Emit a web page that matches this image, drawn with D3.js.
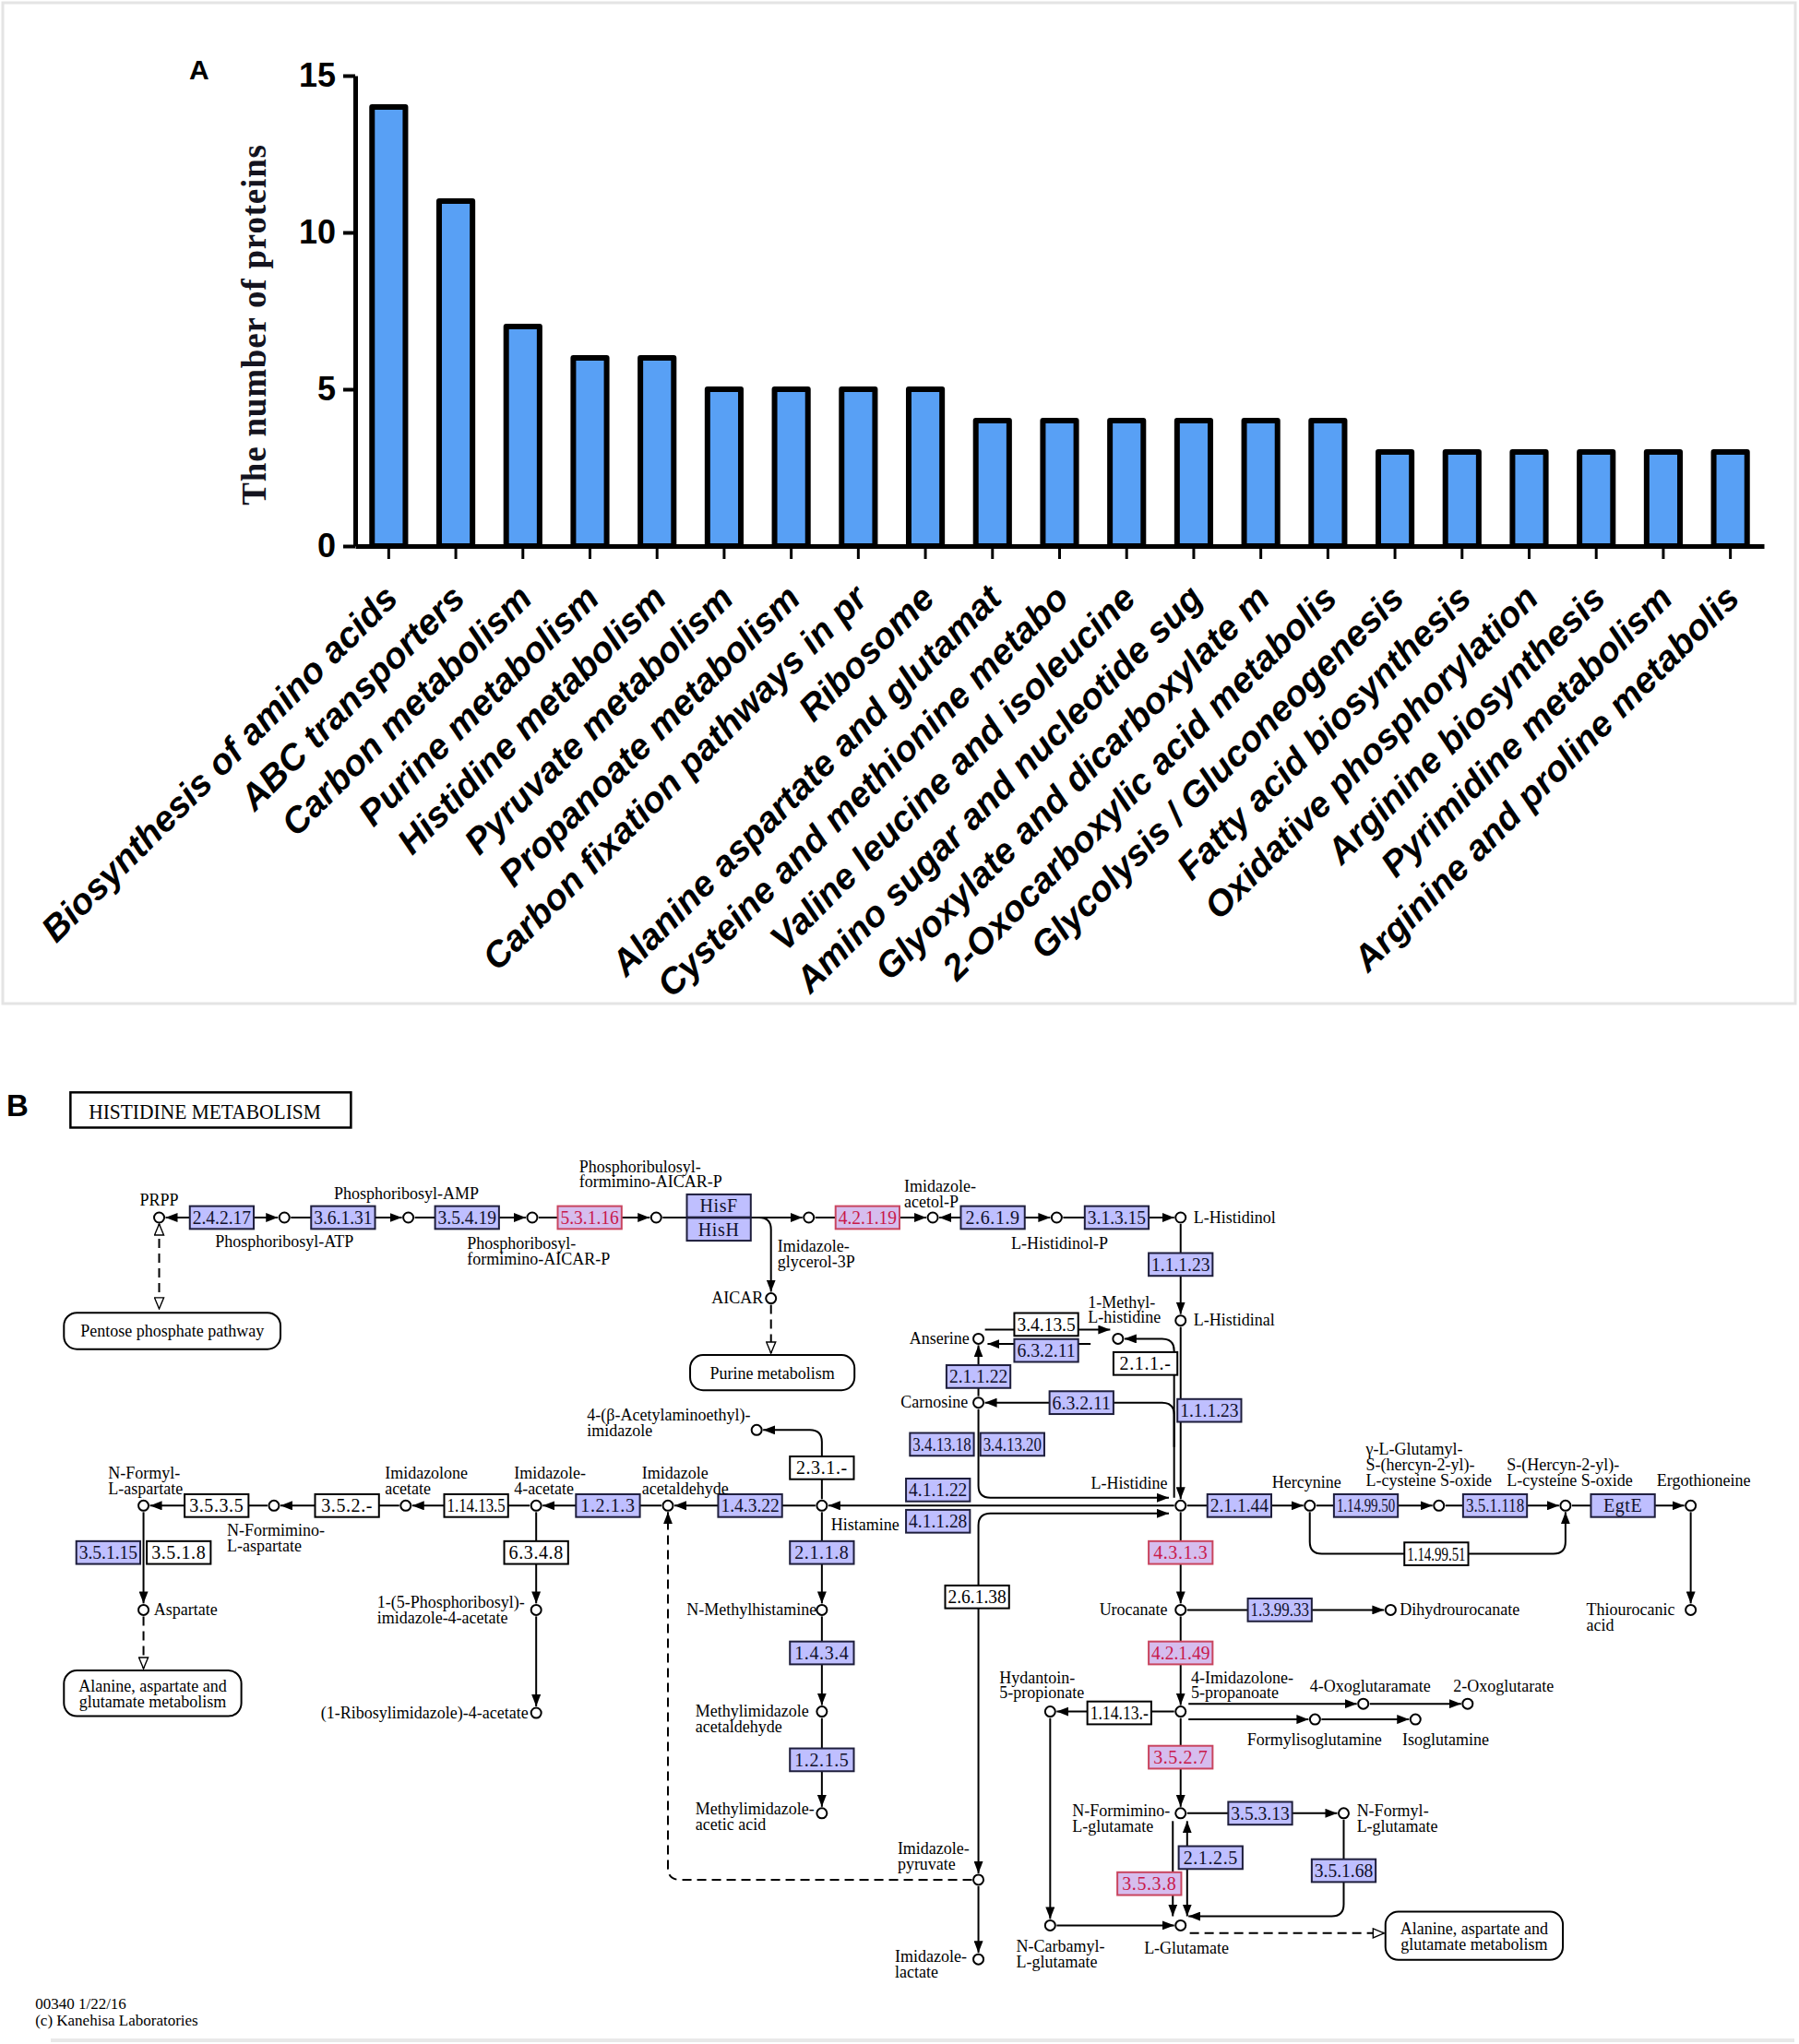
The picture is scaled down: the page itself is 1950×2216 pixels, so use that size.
<!DOCTYPE html>
<html>
<head>
<meta charset="utf-8">
<script src="https://cdn.jsdelivr.net/npm/d3@7"></script>
<style>
  body { margin: 0; background: #fff; }
  svg { display: block; }
</style>
</head>
<body>
<div id="fig"></div>
<script>
// ---------- panel A data ----------
var pathways = [
  "Biosynthesis of amino acids", "ABC transporters", "Carbon metabolism",
  "Purine metabolism", "Histidine metabolism", "Pyruvate metabolism",
  "Propanoate metabolism", "Carbon fixation pathways in pr", "Ribosome",
  "Alanine aspartate and glutamat", "Cysteine and methionine metabo",
  "Valine leucine and isoleucine", "Amino sugar and nucleotide sug",
  "Glyoxylate and dicarboxylate m", "2-Oxocarboxylic acid metabolis",
  "Glycolysis / Gluconeogenesis", "Fatty acid biosynthesis",
  "Oxidative phosphorylation", "Arginine biosynthesis",
  "Pyrimidine metabolism", "Arginine and proline metabolis"
];
var proteinCounts = [14, 11, 7, 6, 6, 5, 5, 5, 5, 4, 4, 4, 4, 4, 4, 3, 3, 3, 3, 3, 3];
var yTicks = [0, 5, 10, 15];

// ---------- panel B data (KEGG map00340, map units) ----------
// compound: id, x, y, label, label x, label baseline, anchor
var compounds = [
  ["PRPP", 122, 934, "PRPP", 122, 925, "middle"],
  ["PATP", 218, 934, "Phosphoribosyl-ATP", 165, 957, "start"],
  ["PAMP", 313, 934, "Phosphoribosyl-AMP", 256, 920, "start"],
  ["PFA", 408, 934, "Phosphoribosyl-\nformimino-AICAR-P", 358, 958, "start"],
  ["PRFA", 503, 934, "Phosphoribulosyl-\nformimino-AICAR-P", 444, 899, "start"],
  ["IGP", 620, 934, "Imidazole-\nglycerol-3P", 596, 960, "start"],
  ["IAP", 715, 934, "Imidazole-\nacetol-P", 693, 914, "start"],
  ["HOLP", 810, 934, "L-Histidinol-P", 775, 958, "start"],
  ["HOL", 905, 934, "L-Histidinol", 915, 938, "start"],
  ["HAL", 905, 1013, "L-Histidinal", 915, 1017, "start"],
  ["HIS", 905, 1155, "L-Histidine", 895, 1142, "end"],
  ["AICAR", 591, 996, "AICAR", 585, 1000, "end"],
  ["MEH", 857, 1027, "1-Methyl-\nL-histidine", 834, 1003, "start"],
  ["ANS", 750, 1027, "Anserine", 743, 1031, "end"],
  ["CAR", 750, 1076, "Carnosine", 742, 1080, "end"],
  ["HSM", 630, 1155, "Histamine", 637, 1174, "start"],
  ["ACE", 580, 1097, "4-(β-Acetylaminoethyl)-\nimidazole", 450, 1090, "start"],
  ["IAA", 512, 1155, "Imidazole\nacetaldehyde", 492, 1134, "start"],
  ["I4A", 411, 1155, "Imidazole-\n4-acetate", 394, 1134, "start"],
  ["IMA", 311, 1155, "Imidazolone\nacetate", 295, 1134, "start"],
  ["NFA", 210, 1155, "N-Formimino-\nL-aspartate", 174, 1178, "start"],
  ["NFLA", 110, 1155, "N-Formyl-\nL-aspartate", 83, 1134, "start"],
  ["ASP", 110, 1235, "Aspartate", 118, 1239, "start"],
  ["PRI", 411, 1235, "1-(5-Phosphoribosyl)-\nimidazole-4-acetate", 289, 1233, "start"],
  ["RIB", 411, 1314, "(1-Ribosylimidazole)-4-acetate", 405, 1318, "end"],
  ["NMH", 630, 1235, "N-Methylhistamine", 626, 1239, "end"],
  ["MIA", 630, 1313, "Methylimidazole\nacetaldehyde", 533, 1317, "start"],
  ["MIAA", 630, 1391, "Methylimidazole-\nacetic acid", 533, 1392, "start"],
  ["IPY", 750, 1442, "Imidazole-\npyruvate", 688, 1422, "start"],
  ["ILA", 750, 1503, "Imidazole-\nlactate", 686, 1505, "start"],
  ["HER", 1004, 1155, "Hercynine", 975, 1141, "start"],
  ["GGC", 1103, 1155, "γ-L-Glutamyl-\nS-(hercyn-2-yl)-\nL-cysteine S-oxide", 1047, 1116, "start"],
  ["SHC", 1200, 1155, "S-(Hercyn-2-yl)-\nL-cysteine S-oxide", 1155, 1128, "start"],
  ["ERG", 1296, 1155, "Ergothioneine", 1270, 1140, "start"],
  ["THI", 1296, 1235, "Thiourocanic\nacid", 1216, 1239, "start"],
  ["URO", 905, 1235, "Urocanate", 895, 1239, "end"],
  ["DHU", 1066, 1235, "Dihydrourocanate", 1073, 1239, "start"],
  ["IMP", 905, 1313, "4-Imidazolone-\n5-propanoate", 913, 1291, "start"],
  ["HYD", 805, 1313, "Hydantoin-\n5-propionate", 766, 1291, "start"],
  ["OXG", 1045, 1307, "4-Oxoglutaramate", 1004, 1298, "start"],
  ["OG2", 1125, 1307, "2-Oxoglutarate", 1114, 1298, "start"],
  ["FIG", 1008, 1319, "Formylisoglutamine", 956, 1339, "start"],
  ["ISG", 1085, 1319, "Isoglutamine", 1075, 1339, "start"],
  ["NFG", 905, 1391, "N-Formimino-\nL-glutamate", 822, 1393, "start"],
  ["NFYG", 1030, 1391, "N-Formyl-\nL-glutamate", 1040, 1393, "start"],
  ["GLU", 905, 1477, "L-Glutamate", 877, 1499, "start"],
  ["NCG", 805, 1477, "N-Carbamyl-\nL-glutamate", 779, 1497, "start"]
];

// enzyme: EC label, centre x, centre y, kind (b = in organism, r = identified, w = absent)
var enzymes = [
  ["2.4.2.17", 170, 934, "b"], ["3.6.1.31", 263, 934, "b"], ["3.5.4.19", 358, 934, "b"],
  ["5.3.1.16", 452, 934, "r"], ["HisF", 551, 925, "b"], ["HisH", 551, 943, "b"],
  ["4.2.1.19", 665, 934, "r"], ["2.6.1.9", 761, 934, "b"], ["3.1.3.15", 856, 934, "b"],
  ["1.1.1.23", 905, 970, "b"], ["3.4.13.5", 802, 1016, "w"], ["6.3.2.11", 802, 1036, "b"],
  ["2.1.1.-", 878, 1046, "w"], ["2.1.1.22", 750, 1056, "b"], ["6.3.2.11", 829, 1076, "b"],
  ["1.1.1.23", 927, 1082, "b"], ["3.4.13.18", 722, 1108, "b"], ["3.4.13.20", 776, 1108, "b"],
  ["2.3.1.-", 630, 1126, "w"], ["4.1.1.22", 719, 1143, "b"], ["4.1.1.28", 719, 1167, "b"],
  ["1.4.3.22", 575, 1155, "b"], ["1.2.1.3", 466, 1155, "b"], ["1.14.13.5", 365, 1155, "w"],
  ["3.5.2.-", 266, 1155, "w"], ["3.5.3.5", 166, 1155, "w"], ["3.5.1.15", 83, 1191, "b"],
  ["3.5.1.8", 137, 1191, "w"], ["6.3.4.8", 411, 1191, "w"], ["2.1.1.8", 630, 1191, "b"],
  ["1.4.3.4", 630, 1268, "b"], ["1.2.1.5", 630, 1350, "b"], ["2.6.1.38", 749, 1225, "w"],
  ["2.1.1.44", 950, 1155, "b"], ["1.14.99.50", 1047, 1155, "b"], ["3.5.1.118", 1146, 1155, "b"],
  ["EgtE", 1244, 1155, "b"], ["1.14.99.51", 1101, 1192, "w"], ["4.3.1.3", 905, 1191, "r"],
  ["1.3.99.33", 981, 1235, "b"], ["4.2.1.49", 905, 1268, "r"], ["1.14.13.-", 858, 1314, "w"],
  ["3.5.2.7", 905, 1348, "r"], ["3.5.3.13", 966, 1391, "b"], ["2.1.2.5", 928, 1425, "b"],
  ["3.5.1.68", 1030, 1435, "b"], ["3.5.3.8", 881, 1445, "r"]
];

// reaction: route (compound ids or map points), start marker, end marker, dashed
// markers: 0 none, 1 filled arrow, 2 open arrow
var reactions = [
  [["PRPP", "PATP"], 1, 1, 0], [["PATP", "PAMP"], 0, 1, 0], [["PAMP", "PFA"], 0, 1, 0],
  [["PFA", "PRFA"], 0, 1, 0], [["PRFA", "IGP"], 0, 1, 0], [[[570, 934], [591, 934], "AICAR"], 0, 1, 0],
  [["IGP", "IAP"], 0, 1, 0], [["IAP", "HOLP"], 1, 1, 0], [["HOLP", "HOL"], 0, 1, 0],
  [["HOL", "HAL"], 0, 1, 0], [["HAL", "HIS"], 0, 1, 0],
  [["PRPP", [122, 1004]], 2, 2, 1], [["AICAR", [591, 1038]], 0, 2, 1],
  [[[755, 1020], [851, 1020]], 0, 1, 0], [[[836, 1031], [757, 1031]], 0, 1, 0],
  [[[900, 1149], [900, 1027], "MEH"], 0, 1, 0], [[[900, 1110], [900, 1076], "CAR"], 0, 1, 0],
  [["CAR", "ANS"], 0, 1, 0], [["CAR", [750, 1149], [896, 1149]], 0, 1, 0],
  [["HIS", "HSM"], 0, 1, 0], [[[896, 1161], [750, 1161], "IPY"], 1, 1, 0],
  [["IPY", "ILA"], 0, 1, 0], [["IPY", [512, 1442], "IAA"], 0, 1, 1],
  [["HSM", "IAA"], 0, 1, 0], [["IAA", "I4A"], 0, 1, 0], [["I4A", "IMA"], 0, 1, 0],
  [["IMA", "NFA"], 0, 1, 0], [["NFA", "NFLA"], 0, 1, 0], [["NFLA", "ASP"], 0, 1, 0],
  [["ASP", [110, 1280]], 0, 2, 1], [["I4A", "PRI"], 0, 1, 0], [["PRI", "RIB"], 0, 1, 0],
  [["HSM", [630, 1097], "ACE"], 0, 1, 0], [["HSM", "NMH"], 0, 1, 0], [["NMH", "MIA"], 0, 1, 0],
  [["MIA", "MIAA"], 0, 1, 0], [["HIS", "HER"], 0, 1, 0], [["HER", "GGC"], 0, 1, 0],
  [["GGC", "SHC"], 0, 1, 0], [["SHC", "ERG"], 0, 1, 0],
  [["HER", [1004, 1192], [1200, 1192], "SHC"], 0, 1, 0], [["ERG", "THI"], 0, 1, 0],
  [["HIS", "URO"], 0, 1, 0], [["URO", "DHU"], 0, 1, 0], [["URO", "IMP"], 0, 1, 0],
  [["IMP", "HYD"], 0, 1, 0], [[[911, 1307], "OXG"], 0, 1, 0], [["OXG", "OG2"], 0, 1, 0],
  [[[911, 1319], "FIG"], 0, 1, 0], [["FIG", "ISG"], 0, 1, 0], [["IMP", "NFG"], 0, 1, 0],
  [["NFG", "NFYG"], 0, 1, 0], [["NFYG", [1030, 1470], [911, 1470]], 0, 1, 0],
  [[[899, 1397], [899, 1470]], 0, 1, 0], [[[910, 1397], [910, 1470]], 1, 1, 0],
  [["HYD", "NCG"], 0, 1, 0], [["NCG", "GLU"], 0, 1, 0], [[[912, 1483], [1061, 1483]], 0, 2, 1]
];

// linked maps: label, centre x, centre y, width, height
var mapLinks = [
  ["Pentose phosphate pathway", 132, 1021, 166, 28],
  ["Purine metabolism", 592, 1053, 126, 27],
  ["Alanine, aspartate and\nglutamate metabolism", 117, 1299, 136, 35],
  ["Alanine, aspartate and\nglutamate metabolism", 1130, 1485, 136, 37]
];

var footer = ["00340 1/22/16", "(c) Kanehisa Laboratories"];

// ---------- drawing ----------
var W = 1950, H = 2216;
var svg = d3.select("#fig").append("svg").attr("width", W).attr("height", H);
svg.append("rect").attr("width", W).attr("height", H).attr("fill", "#fff");

// faint frames of the two scanned panels
svg.append("rect").attr("x", 3).attr("y", 3).attr("width", 1943).attr("height", 1085)
    .attr("fill", "none").attr("stroke", "#e4e4e4").attr("stroke-width", 3);
svg.append("line").attr("x1", 55).attr("x2", 1945).attr("y1", 2212).attr("y2", 2212)
    .attr("stroke", "#e8e8e8").attr("stroke-width", 4);

// ----- panel A: bar chart -----
var sans = "'Liberation Sans', Arial, sans-serif";
var serif = "'Liberation Serif', 'Times New Roman', serif";

var x = d3.scaleBand().domain(pathways).range([385, 1912]).paddingInner(0.42).paddingOuter(0.21);
var y = d3.scaleLinear().domain([0, 15]).range([592, 82]);

var gA = svg.append("g");

gA.append("text").attr("x", 205).attr("y", 86).text("A")
    .attr("font-family", sans).attr("font-weight", "bold").attr("font-size", 30);

gA.selectAll(".bar")
    .data(proteinCounts)
  .enter().append("rect")
    .attr("class", "bar")
    .attr("x", function(d, i) { return x(pathways[i]) + 3; })
    .attr("width", x.bandwidth() - 6)
    .attr("y", function(d) { return y(d); })
    .attr("height", function(d) { return y(0) - y(d); })
    .attr("fill", "#58a0f5")
    .attr("stroke", "#000")
    .attr("stroke-width", 6)
    .attr("stroke-linejoin", "round");

// y axis
var yAxis = gA.append("g")
    .attr("transform", "translate(385,0)")
    .call(d3.axisLeft(y).tickValues(yTicks).tickSize(13).tickSizeOuter(0).tickPadding(8));
yAxis.select(".domain").attr("stroke-width", 5);
yAxis.selectAll(".tick line").attr("stroke-width", 4);
yAxis.selectAll(".tick text")
    .attr("font-family", sans).attr("font-weight", "bold").attr("font-size", 36)
    .attr("fill", "#000");

// x axis
var xAxis = gA.append("g")
    .attr("transform", "translate(0," + y(0) + ")")
    .call(d3.axisBottom(x).tickSize(14).tickSizeOuter(0));
xAxis.select(".domain").attr("stroke-width", 5);
xAxis.selectAll(".tick line").attr("stroke-width", 3);
xAxis.selectAll(".tick text")
    .attr("x", 0).attr("y", 0).attr("dy", 0)
    .attr("transform", "translate(12,59) rotate(-45)")
    .style("text-anchor", "end")
    .attr("font-family", sans).attr("font-weight", "bold").attr("font-style", "italic")
    .attr("font-size", 39).attr("fill", "#000");

// y axis title
gA.append("text")
    .attr("transform", "translate(288,352) rotate(-90)")
    .style("text-anchor", "middle")
    .attr("font-family", serif).attr("font-weight", "bold").attr("font-size", 37)
    .attr("letter-spacing", 0.8)
    .attr("fill", "#141420")
    .text("The number of proteins");

// ----- panel B: KEGG histidine metabolism -----
var sx = d3.scaleLinear().domain([0, 1379]).range([0, W]);
var sy = d3.scaleLinear().domain([0, 1568]).range([0, H]);
var R = 5.5;          // compound circle radius
var boxW = sx(49), boxH = sy(17.5);

var gB = svg.append("g");

gB.append("text").attr("x", 7).attr("y", 1210).text("B")
    .attr("font-family", sans).attr("font-weight", "bold").attr("font-size", 33);

gB.append("rect").attr("x", sx(54)).attr("y", sy(838)).attr("width", sx(215)).attr("height", sy(27))
    .attr("fill", "#fff").attr("stroke", "#000").attr("stroke-width", 2.5);
gB.append("text").attr("x", sx(68)).attr("y", sy(858))
    .attr("font-family", serif).attr("font-size", 24)
    .attr("textLength", sx(178)).attr("lengthAdjust", "spacingAndGlyphs")
    .text("HISTIDINE  METABOLISM");

// markers
var defs = svg.append("defs");
defs.append("marker").attr("id", "arw")
    .attr("viewBox", "0 0 13 10").attr("refX", 13).attr("refY", 5)
    .attr("markerWidth", 13).attr("markerHeight", 10)
    .attr("markerUnits", "userSpaceOnUse").attr("orient", "auto-start-reverse")
  .append("path").attr("d", "M0,0L13,5L0,10Z").attr("fill", "#000");
defs.append("marker").attr("id", "open")
    .attr("viewBox", "-1 -1 14 12").attr("refX", 12).attr("refY", 5)
    .attr("markerWidth", 14).attr("markerHeight", 12)
    .attr("markerUnits", "userSpaceOnUse").attr("orient", "auto-start-reverse")
  .append("path").attr("d", "M0,0L12,5L0,10Z").attr("fill", "#fff")
    .attr("stroke", "#000").attr("stroke-width", 1.4);
var markerUrl = [null, "url(#arw)", "url(#open)"];

var byId = {};
compounds.forEach(function(c) { byId[c[0]] = c; });

function toPx(p) {
  if (typeof p === "string") return [sx(byId[p][1]), sy(byId[p][2])];
  return [sx(p[0]), sy(p[1])];
}
function pullBack(p, q, dist) {
  var len = Math.hypot(q[0] - p[0], q[1] - p[1]);
  return [p[0] + (q[0] - p[0]) * dist / len, p[1] + (q[1] - p[1]) * dist / len];
}
function roundedPath(pts, r) {
  var d = "M" + pts[0][0] + "," + pts[0][1];
  for (var i = 1; i < pts.length - 1; i++) {
    var p0 = pts[i - 1], p1 = pts[i], p2 = pts[i + 1];
    var d1 = Math.hypot(p1[0] - p0[0], p1[1] - p0[1]);
    var d2 = Math.hypot(p2[0] - p1[0], p2[1] - p1[1]);
    var rr = Math.min(r, d1 / 2, d2 / 2);
    var a = [p1[0] + (p0[0] - p1[0]) * rr / d1, p1[1] + (p0[1] - p1[1]) * rr / d1];
    var b = [p1[0] + (p2[0] - p1[0]) * rr / d2, p1[1] + (p2[1] - p1[1]) * rr / d2];
    d += "L" + a[0] + "," + a[1] + "Q" + p1[0] + "," + p1[1] + " " + b[0] + "," + b[1];
  }
  var e = pts[pts.length - 1];
  return d + "L" + e[0] + "," + e[1];
}

// reactions
gB.append("g").selectAll("path")
    .data(reactions)
  .enter().append("path")
    .attr("d", function(r) {
      var route = r[0], pts = route.map(toPx), n = pts.length;
      if (typeof route[0] === "string") pts[0] = pullBack(pts[0], pts[1], R + 1.5);
      if (typeof route[n - 1] === "string") pts[n - 1] = pullBack(pts[n - 1], pts[n - 2], R + 1.5);
      return roundedPath(pts, 13);
    })
    .attr("fill", "none")
    .attr("stroke", "#000")
    .attr("stroke-width", 2)
    .attr("stroke-dasharray", function(r) { return r[3] ? "10,6" : null; })
    .attr("marker-start", function(r) { return markerUrl[r[1]]; })
    .attr("marker-end", function(r) { return markerUrl[r[2]]; });

// linked map boxes
var links = gB.append("g").selectAll("g").data(mapLinks).enter().append("g");
links.append("rect")
    .attr("x", function(d) { return sx(d[1] - d[3] / 2); })
    .attr("y", function(d) { return sy(d[2] - d[4] / 2); })
    .attr("width", function(d) { return sx(d[3]); })
    .attr("height", function(d) { return sy(d[4]); })
    .attr("rx", 14).attr("ry", 14)
    .attr("fill", "#fff").attr("stroke", "#000").attr("stroke-width", 2);
links.each(function(d) {
  var lines = d[0].split("\n");
  var t = d3.select(this).append("text")
      .attr("font-family", serif).attr("font-size", 18).attr("text-anchor", "middle");
  lines.forEach(function(s, i) {
    t.append("tspan").attr("x", sx(d[1]))
        .attr("y", sy(d[2] + 4.5 - (lines.length - 1) * 6 + i * 12)).text(s);
  });
});

// enzyme boxes
var fills = { b: "#bfbfff", r: "#d6bdee", w: "#fff" };
var strokes = { b: "#1e1e3c", r: "#c9455f", w: "#000" };
var inks = { b: "#10102a", r: "#c8184a", w: "#000" };
var enz = gB.append("g").selectAll("g").data(enzymes).enter().append("g");
enz.append("rect")
    .attr("x", function(d) { return sx(d[1]) - boxW / 2; })
    .attr("y", function(d) { return sy(d[2]) - boxH / 2; })
    .attr("width", boxW).attr("height", boxH)
    .attr("fill", function(d) { return fills[d[3]]; })
    .attr("stroke", function(d) { return strokes[d[3]]; })
    .attr("stroke-width", 2);
enz.append("text")
    .attr("x", function(d) { return sx(d[1]); })
    .attr("y", function(d) { return sy(d[2]) + 7; })
    .attr("text-anchor", "middle")
    .attr("font-family", serif).attr("font-size", 20)
    .attr("letter-spacing", 0.6)
    .attr("fill", function(d) { return inks[d[3]]; })
    .text(function(d) { return d[0]; })
    .each(function() {
      if (this.getComputedTextLength() > boxW - 6) {
        d3.select(this).attr("letter-spacing", 0)
            .attr("textLength", boxW - 6).attr("lengthAdjust", "spacingAndGlyphs");
      }
    });

// compounds
gB.append("g").selectAll("circle")
    .data(compounds)
  .enter().append("circle")
    .attr("cx", function(d) { return sx(d[1]); })
    .attr("cy", function(d) { return sy(d[2]); })
    .attr("r", R)
    .attr("fill", "#fff").attr("stroke", "#000").attr("stroke-width", 2);

gB.append("g").selectAll("text")
    .data(compounds)
  .enter().append("text")
    .attr("font-family", serif).attr("font-size", 18)
    .attr("text-anchor", function(d) { return d[6]; })
    .each(function(d) {
      var t = d3.select(this);
      d[3].split("\n").forEach(function(s, i) {
        t.append("tspan").attr("x", sx(d[4])).attr("y", sy(d[5] + i * 12)).text(s);
      });
    });

// footer
gB.append("g").selectAll("text")
    .data(footer)
  .enter().append("text")
    .attr("x", sx(27))
    .attr("y", function(d, i) { return sy(1541 + i * 13); })
    .attr("font-family", serif).attr("font-size", 17)
    .text(function(d) { return d; });
</script>
</body>
</html>
